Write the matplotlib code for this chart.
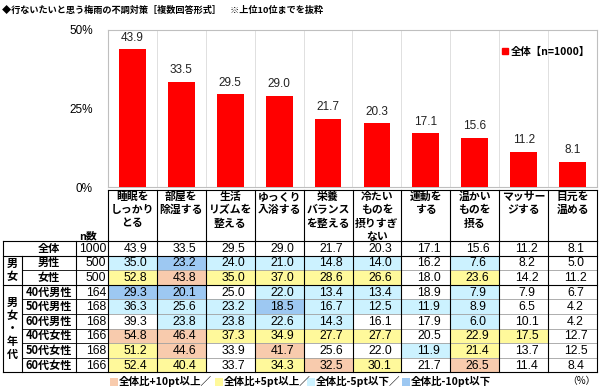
import matplotlib
matplotlib.use("Agg")
import matplotlib.pyplot as plt
from matplotlib.patches import Rectangle, Patch
import numpy as np

plt.rcParams['font.family'] = ['Noto Sans CJK JP', 'DejaVu Sans']

# ---------------- data ----------------
title = "◆行ないたいと思う梅雨の不調対策［複数回答形式］　※上位10位までを抜粋"
categories = ["睡眠を\nしっかり\nとる", "部屋を\n除湿する", "生活\nリズムを\n整える", "ゆっくり\n入浴する",
              "栄養\nバランス\nを整える", "冷たい\nものを\n摂りすぎ\nない", "運動を\nする",
              "温かい\nものを\n摂る", "マッサー\nジする", "目元を\n温める"]
overall = [43.9, 33.5, 29.5, 29.0, 21.7, 20.3, 17.1, 15.6, 11.2, 8.1]
series_label = "全体【n=1000】"
yticks = [0, 25, 50]
ytick_labels = ["0%", "25%", "50%"]

row_labels = ["全体", "男性", "女性", "40代男性", "50代男性", "60代男性", "40代女性", "50代女性", "60代女性"]
row_n = [1000, 500, 500, 164, 168, 168, 166, 168, 166]
male = [35.0, 23.2, 24.0, 21.0, 14.8, 14.0, 16.2, 7.6, 8.2, 5.0]
female = [52.8, 43.8, 35.0, 37.0, 28.6, 26.6, 18.0, 23.6, 14.2, 11.2]
m40 = [29.3, 20.1, 25.0, 22.0, 13.4, 13.4, 18.9, 7.9, 7.9, 6.7]
m50 = [36.3, 25.6, 23.2, 18.5, 16.7, 12.5, 11.9, 8.9, 6.5, 4.2]
m60 = [39.3, 23.8, 23.8, 22.6, 14.3, 16.1, 17.9, 6.0, 10.1, 4.2]
f40 = [54.8, 46.4, 37.3, 34.9, 27.7, 27.7, 20.5, 22.9, 17.5, 12.7]
f50 = [51.2, 44.6, 33.9, 41.7, 25.6, 22.0, 11.9, 21.4, 13.7, 12.5]
f60 = [52.4, 40.4, 33.7, 34.3, 32.5, 30.1, 21.7, 26.5, 11.4, 8.4]
table_rows = [overall, male, female, m40, m50, m60, f40, f50, f60]
group_labels = ["男\n女", "男\n女\n・\n年\n代"]
group_spans = [(1, 2), (3, 8)]
legend_labels = ["全体比+10pt以上／", "全体比+5pt以上／", "全体比-5pt以下／", "全体比-10pt以下"]
unit_label = "（%）"
n_header = "n数"

# ---------------- styles ----------------
RED = "#FF0000"
C_P10 = "#F8CBAD"
C_P5 = "#FFF99B"
C_M5 = "#CCF2FF"
C_M10 = "#9DC8F2"
legend_colors = [C_P10, C_P5, C_M5, C_M10]
NUMFONT = ['Liberation Sans', 'DejaVu Sans']
JP = ['Noto Sans CJK JP', 'DejaVu Sans']

W, H = 600, 390
fig = plt.figure(figsize=(6, 3.9), dpi=100)

# layout (pixels)
X0, X1 = 108, 597       # data column span
PY_TOP, PY_BOT = 30, 187
HDR_TOP, HDR_BOT = 190, 241
ROW_H = 14.6
TL, GC, LC = 3, 22, 76  # table left, group col border, label col border

def fx(px): return px / W
def fy(py): return 1 - py / H

ncat = len(categories)
colw = (X1 - X0) / ncat

# ---------------- bar chart ----------------
ax = fig.add_axes([fx(X0), fy(PY_BOT), fx(X1) - fx(X0), fy(PY_TOP) - fy(PY_BOT)])
x = np.arange(ncat)
bars = ax.bar(x, overall, width=0.55, color=RED, zorder=3, label=series_label)
for xi, v in zip(x, overall):
    ax.annotate(f"{v:.1f}", (xi, v), xytext=(0, 4), textcoords="offset points",
                ha="center", va="bottom", fontsize=8.5, family=NUMFONT, color="#222222")
ax.set_xlim(-0.5, ncat - 0.5)
ax.set_ylim(0, 50)
ax.set_yticks(yticks)
ax.set_yticklabels(ytick_labels, family=NUMFONT, fontsize=8.5)
ax.tick_params(axis="y", length=0, pad=11)
ax.set_xticks([])
for b in np.arange(ncat - 1) + 0.5:
    ax.axvline(b, color="#E0E0E0", lw=0.7, zorder=1)
for s in ax.spines.values():
    s.set_color("#BFBFBF")
    s.set_linewidth(0.8)
ax.legend(handles=[Patch(color=RED)], labels=[series_label], loc="center left",
          bbox_to_anchor=(fx(497), fy(52)), bbox_transform=fig.transFigure,
          frameon=False, handlelength=0.55, handleheight=0.55, handletextpad=0.3,
          borderpad=0, prop={'family': JP, 'weight': 'bold', 'size': 7.5})

# ---------------- table ----------------
t = fig.add_axes([0, 0, 1, 1], zorder=-1)
t.set_xlim(0, W)
t.set_ylim(H, 0)
t.axis("off")

def col_center(i): return X0 + (i + 0.5) * colw

# header
for i, lab in enumerate(categories):
    for k, line in enumerate(lab.split("\n")):
        t.text(col_center(i), 197 + k * 13.2, line, ha="center", va="center",
               fontsize=7.8, fontweight="bold", family=JP)
for i in range(ncat + 1):
    xb = X0 + i * colw
    t.plot([xb, xb], [HDR_TOP, HDR_BOT], color="black", lw=0.8)
t.plot([X0, X1], [HDR_TOP, HDR_TOP], color="black", lw=0.8)
t.text(LC + 12, HDR_BOT - 5, n_header, ha="center", va="center", fontsize=7.8,
       fontweight="bold", family=JP)

base = table_rows[0]
for r, (lab, n, vals) in enumerate(zip(row_labels, row_n, table_rows)):
    y0 = HDR_BOT + r * ROW_H
    yc = y0 + ROW_H / 2
    for i, v in enumerate(vals):
        c = None
        if r > 0:
            d = v - base[i]
            if d >= 10: c = C_P10
            elif d >= 5: c = C_P5
            elif d <= -10: c = C_M10
            elif d <= -5: c = C_M5
        if c:
            t.add_patch(Rectangle((X0 + i * colw, y0), colw, ROW_H, facecolor=c, edgecolor="none", zorder=0))
        t.text(col_center(i) + 3, yc + 0.5, f"{v:.1f}", ha="center", va="center",
               fontsize=8.8, family=NUMFONT)
    t.text(X0 - 2, yc + 0.5, str(n), ha="right", va="center", fontsize=8.8, family=NUMFONT)
    t.text((GC + LC) / 2, yc, lab, ha="center", va="center", fontsize=8,
           fontweight="bold", family=JP)

# group labels
for lab, (a, b) in zip(group_labels, group_spans):
    ya = HDR_BOT + a * ROW_H
    yb = HDR_BOT + (b + 1) * ROW_H
    lines = lab.split("\n")
    step = 13
    start = (ya + yb) / 2 - step * (len(lines) - 1) / 2
    for k, ch in enumerate(lines):
        t.text((TL + GC) / 2, start + k * step, ch, ha="center", va="center",
               fontsize=8, fontweight="bold", family=JP)

# grid lines
nrows = len(row_labels)
TB = HDR_BOT + nrows * ROW_H
group_bounds = {0, 1, 3, nrows}
for r in range(nrows + 1):
    yy = HDR_BOT + r * ROW_H
    if r in group_bounds:
        t.plot([TL, X1], [yy, yy], color="black", lw=0.8)
    else:
        t.plot([GC, X0], [yy, yy], color="black", lw=0.6)
        t.plot([X0, X1], [yy, yy], color="#A0A0A0", lw=0.6)
t.plot([TL, TL], [HDR_BOT, TB], color="black", lw=0.8)
t.plot([GC, GC], [HDR_BOT + ROW_H, TB], color="black", lw=0.8)
t.plot([LC, LC], [HDR_BOT, TB], color="black", lw=0.8)
for i in range(ncat + 1):
    xb = X0 + i * colw
    t.plot([xb, xb], [HDR_BOT, TB], color="black", lw=0.8)

# bottom legend
lx = [110, 215, 307, 402]
for xx, c, lab in zip(lx, legend_colors, legend_labels):
    t.add_patch(Rectangle((xx, 377.5), 7.5, 8, facecolor=c, edgecolor="none"))
    t.text(xx + 9, 381.5, lab, ha="left", va="center", fontsize=7.6,
           fontweight="bold", family=JP)
t.text(596, 381, unit_label, ha="right", va="center", fontsize=7, family=JP)

# title
t.text(2, 10, title, ha="left", va="center", fontsize=6.6, fontweight="bold", family=JP)

fig.savefig("out.png", dpi=100)
